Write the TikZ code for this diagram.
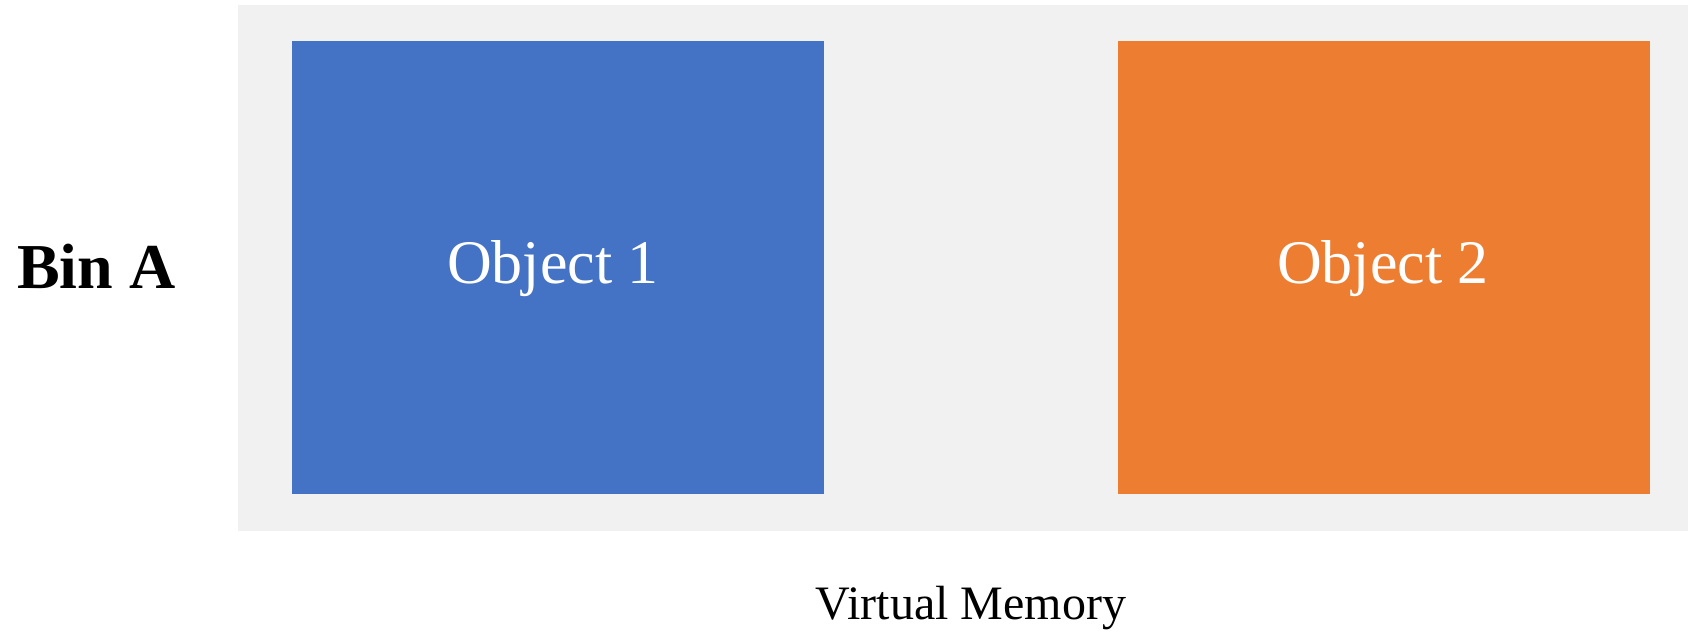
\documentclass[tikz,border=0pt]{standalone}
\usepackage{fontspec}
\setmainfont{Liberation Serif}
\definecolor{memgray}{HTML}{F1F1F1}
\definecolor{objblue}{HTML}{4472C4}
\definecolor{objorange}{HTML}{ED7D31}
\begin{document}
\begin{tikzpicture}[x=1pt,y=-1pt,
  region/.style={fill=memgray,draw=none},
  objbox/.style={draw=none,text=white,font=\fontsize{62}{64}\selectfont},
  caption/.style={font=\fontsize{48}{50}\selectfont,text=black}]
\useasboundingbox (0,0) rectangle (1688,630);
% address space background
\fill[region] (238,5) rectangle (1688,531);
% objects placed in memory
\fill[objblue] (292,41) rectangle (824,494);
\fill[objorange] (1118,41) rectangle (1650,494);
\node[objbox] (obj1) at (553,269) {Object 1};
\node[objbox] (obj2) at (1383,269) {Object 2};
% labels
\node[font=\bfseries\fontsize{64}{66}\selectfont,anchor=west,inner sep=0pt] (bin) at (17,266) {Bin A};
\node[caption,anchor=base] (vm) at (971,619) {Virtual Memory};
\end{tikzpicture}
\end{document}
